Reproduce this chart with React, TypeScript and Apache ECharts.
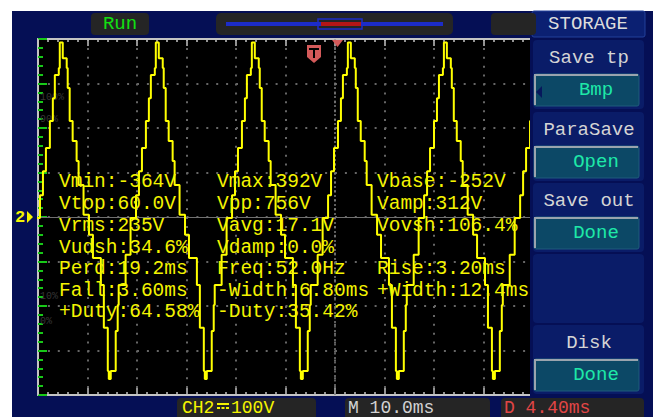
import React, { useEffect, useRef } from "react";
import * as echarts from "echarts";

// Screen scales: 10 ms/div x 12 div, 100 V/div x 8 div
const timeMin = -60;
const timeMax = 60;
const timeStep = 10;
const voltMin = -400;
const voltMax = 400;
const voltStep = 100;

// Peak times of the CH2 trace (ms from screen centre)
const peakMs = [-74.8, -55.4, -36.0, -16.6, 2.8, 22.2, 41.6];
// One period of the stepped trace: offset after a peak (ms) and level (V)
const cycleOffsetMs = [0, 0.4, 1.2, 1.4, 1.8, 2.4, 3.2, 3.6, 4.6, 5.7, 6.5, 8.1, 8.7, 9.5, 9.7, 10.1, 11.1, 11.5, 11.7, 13.1, 14.1, 15.2, 15.8, 16.4, 17.2, 17.8, 18.2, 19.0, 19.2];
const cycleVolts = [392, 357, 335, 290, 216, 171, 126, 72, 5, -40, -92, -153, -249, -346, -364, -346, -256, -198, -153, -85, -2, 49, 103, 155, 216, 267, 319, 335, 392];

// Measurement read-outs
const measureCol1 = ["Vmin:-364V", "Vtop:60.0V", "Vrms:235V", "Vudsh:34.6%", "Perd:19.2ms", "Fall:3.60ms", "+Duty:64.58%"];
const measureCol2 = ["Vmax:392V", "Vpp:756V", "Vavg:17.1V", "Vdamp:0.0%", "Freq:52.0Hz", "-Width:6.80ms", "-Duty:35.42%"];
const measureCol3 = ["Vbase:-252V", "Vamp:312V", "Vovsh:106.4%", "", "Rise:3.20ms", "+Width:12.4ms", ""];

// Menu
const menuTitle = "STORAGE";
const menuLabels = ["Save tp", "ParaSave", "Save out", "", "Disk"];
const menuValues = ["Bmp", "Open", "Done", "", "Done"];

// Status texts
const runText = "Run";
const chText = "CH2";
const voltDivText = "100V";
const timeDivText = "M 10.0ms";
const delayText = "D 4.40ms";
const refLevelTexts = ["100%", "90%", "10%", "0%"];

const MONO = '"Liberation Mono", "DejaVu Sans Mono", monospace';
const PAGE_BLUE = "#050f55";
const SECTION_BLUE = "#0a1c68";
const BOX_GRAY = "#252525";
const YELLOW = "#f4f400";

function rect(x: number, y: number, w: number, h: number, fill: string, z: number, r = 0, stroke?: string, lw = 0) {
  return {
    type: "rect",
    silent: true,
    z,
    shape: { x, y, width: w, height: h, r },
    style: { fill, stroke: stroke || null, lineWidth: lw },
  };
}

function text(s: string, x: number, y: number, fill: string, size: number, align = "left", z = 60, weight = "normal") {
  return {
    type: "text",
    silent: true,
    z,
    x,
    y,
    style: {
      text: s,
      fill,
      font: `${weight} ${size}px ${MONO}`,
      textAlign: align,
      textVerticalAlign: "middle",
      align,
      verticalAlign: "middle",
    },
  };
}

function poly(points: number[][], fill: string, z: number) {
  return { type: "polygon", silent: true, z, shape: { points }, style: { fill } };
}

function line(x1: number, y1: number, x2: number, y2: number, stroke: string, w: number, z: number) {
  return { type: "line", silent: true, z, shape: { x1, y1, x2, y2 }, style: { stroke, lineWidth: w } };
}

function buildOption() {
  const wave: number[][] = [];
  peakMs.forEach((p) => {
    cycleOffsetMs.forEach((o, i) => {
      wave.push([Math.round((p + o) * 100) / 100, cycleVolts[i]]);
    });
  });

  const g: any[] = [];
  // page + screen backgrounds
  g.push(rect(12, 11, 641, 406, PAGE_BLUE, -100));
  g.push(rect(38, 39, 594, 356, "#000000", -90));

  // top status bar
  g.push(rect(91, 13, 58, 22, BOX_GRAY, 100, 4));
  g.push(text(runText, 120, 24, "#12e012", 19, "center", 101));
  g.push(rect(216, 13, 237, 22, BOX_GRAY, 100, 5));
  g.push(rect(226, 22, 217, 4, "#1c2cc8", 101));
  g.push(rect(321, 22, 40, 4, "#b41616", 102));
  g.push(rect(318, 19, 44, 10, "rgba(0,0,0,0)", 103, 0, "#1c2cc8", 1.5));
  g.push(rect(491, 13, 45, 22, BOX_GRAY, 100, 4));

  // left channel marker
  g.push(text("2", 20, 217, YELLOW, 17, "center", 60, "bold"));
  g.push(poly([[27, 211], [27, 223], [33, 217]], YELLOW, 60));

  // trigger markers
  g.push(poly([[307, 45], [321, 45], [321, 57], [314, 63], [307, 57]], "#d45a5a", 60));
  g.push(rect(309, 48, 10, 2, "#000000", 61));
  g.push(rect(313, 48, 2, 10, "#000000", 61));
  g.push(poly([[332, 40], [343, 40], [337.5, 47]], "#d45a5a", 60));

  // faint reference level labels
  const refY = [97, 119, 296, 321];
  refLevelTexts.forEach((t, i) => g.push(text(t, 40, refY[i], "#363636", 10, "left", 5)));

  // measurement read-outs
  const rowY = [182, 204, 226, 248, 269, 291, 312];
  const colX = [59, 217, 377];
  [measureCol1, measureCol2, measureCol3].forEach((col, ci) => {
    col.forEach((s, ri) => {
      if (s) g.push(text(s, colX[ci], rowY[ri], YELLOW, 19.5, "left", 60));
    });
  });

  // right menu panel
  g.push(rect(530, 11, 123, 406, PAGE_BLUE, 90));
  g.push(rect(532, 11, 113, 26, "#0b2072", 91, 2, "#23409a", 1));
  g.push(text(menuTitle, 588, 24, "#dcdcdc", 19, "center", 92));
  const secY = [40, 112, 183, 254, 325];
  secY.forEach((sy, i) => {
    g.push(rect(533, sy, 111, 69, SECTION_BLUE, 91, 4));
    if (menuLabels[i]) g.push(text(menuLabels[i], 589, sy + 18, "#d4d4d4", 19, "center", 93));
    if (menuValues[i]) {
      const by = sy + 34;
      g.push(rect(534, by, 105, 32, "#0c4866", 92, 2, "#1f5a7c", 1));
      g.push({ type: "polyline", silent: true, z: 93, shape: { points: [[535, by + 31], [535, by + 1], [638, by + 1]] }, style: { stroke: "#9aa4ae", lineWidth: 2, fill: null } });
      g.push(text(menuValues[i], 596, by + 16, "#1ee8a8", 19, "center", 94));
    }
  });
  g.push(poly([[542, 86], [542, 98], [536, 92]], "#06185c", 95));

  // bottom status boxes
  g.push(rect(177, 398, 139, 26, BOX_GRAY, 100, 4));
  g.push(text(chText, 182, 408, YELLOW, 18, "left", 101));
  g.push(line(217, 404, 229, 404, YELLOW, 2, 101));
  g.push(line(217, 408, 220, 408, YELLOW, 2, 101));
  g.push(line(221.5, 408, 224.5, 408, YELLOW, 2, 101));
  g.push(line(226, 408, 229, 408, YELLOW, 2, 101));
  g.push(text(voltDivText, 231, 408, YELLOW, 18, "left", 101));
  g.push(rect(345, 398, 145, 26, BOX_GRAY, 100, 4));
  g.push(text(timeDivText, 348, 408, "#d2d2d2", 18, "left", 101));
  g.push(rect(501, 398, 143, 26, BOX_GRAY, 100, 4));
  g.push(text(delayText, 504, 408, "#e24646", 18, "left", 101));

  const tickGray = "#c4c4c4";
  const xAxisBase = (position: string, split: boolean) => ({
    type: "value",
    min: timeMin,
    max: timeMax,
    interval: timeStep,
    position,
    axisLine: { show: true, onZero: false, lineStyle: { color: tickGray, width: 2 } },
    axisTick: { show: true, inside: true, length: 7, lineStyle: { color: tickGray, width: 1.5 } },
    minorTick: { show: true, splitNumber: 5, length: 3, lineStyle: { color: tickGray, width: 1.5 } },
    axisLabel: { show: false },
    splitLine: { show: split, lineStyle: { color: "#666666", width: 2, type: [2, 6.9] } },
    minorSplitLine: { show: false },
  });

  return {
    animation: false,
    backgroundColor: "#ffffff",
    grid: { left: 38, top: 39, width: 594, height: 356, containLabel: false },
    xAxis: [xAxisBase("bottom", true), xAxisBase("top", false)],
    yAxis: [
      {
        type: "value",
        min: voltMin,
        max: voltMax,
        interval: voltStep,
        position: "left",
        axisLine: { show: true, onZero: false, lineStyle: { color: tickGray, width: 2 } },
        axisTick: { show: true, inside: true, length: 9, lineStyle: { color: "#18c818", width: 2 } },
        minorTick: { show: true, splitNumber: 5, length: 5, lineStyle: { color: "#18c818", width: 2 } },
        axisLabel: { show: false },
        splitLine: { show: true, lineStyle: { color: "#666666", width: 2, type: [2, 7.9] } },
      },
    ],
    series: [
      {
        type: "line",
        xAxisIndex: 0,
        yAxisIndex: 0,
        data: [],
        z: 1,
        markLine: {
          silent: true,
          symbol: "none",
          label: { show: false },
          data: [
            { xAxis: 0, lineStyle: { color: "#7c7c7c", width: 1.5, type: [2, 2.5] } },
            { yAxis: 0, lineStyle: { color: "#707070", width: 1, type: "solid" } },
          ],
        },
      },
      {
        type: "line",
        xAxisIndex: 0,
        yAxisIndex: 0,
        data: wave,
        step: "end",
        showSymbol: false,
        symbol: "none",
        clip: true,
        z: 10,
        lineStyle: { color: "#ffff00", width: 2 },
      },
    ],
    graphic: { elements: g },
  };
}

export default function App() {
  const ref = useRef<HTMLDivElement>(null);
  useEffect(() => {
    if (!ref.current) return;
    const chart = echarts.init(ref.current, null, { renderer: "svg" });
    chart.setOption(buildOption() as any);
    return () => chart.dispose();
  }, []);
  return <div ref={ref} style={{ position: "absolute", left: 0, top: 0, width: 653, height: 417 }} />;
}
